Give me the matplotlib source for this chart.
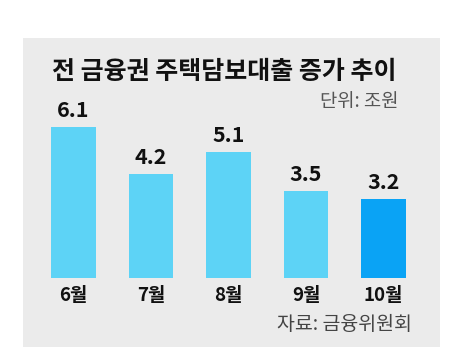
import matplotlib.pyplot as plt
from matplotlib.patches import Rectangle

plt.rcParams['font.family'] = ['Noto Sans CJK KR', 'DejaVu Sans']

months = ['6월', '7월', '8월', '9월', '10월']
values = [6.1, 4.2, 5.1, 3.5, 3.2]
colors = ['#5dd3f6', '#5dd3f6', '#5dd3f6', '#5dd3f6', '#0aa3f5']

W, H = 453, 364
fig = plt.figure(figsize=(W / 100, H / 100), dpi=100)
fig.patch.set_facecolor('white')

# gray panel
fig.patches.append(Rectangle((23 / W, 1 - 347 / H), 417 / W, 309 / H,
                             transform=fig.transFigure, facecolor='#ebebeb',
                             edgecolor='none', zorder=-1))

ax = fig.add_axes([34.75 / W, 86 / H, 387.5 / W, 198 / H])
ax.set_zorder(1)
ax.patch.set_alpha(0)
x = range(len(values))
bars = ax.bar(x, values, width=0.58, color=colors)
ax.set_xlim(-0.5, 4.5)
ax.set_ylim(0, 8)

for xi, v in zip(x, values):
    ax.annotate(f'{v}', (xi, v), xytext=(0, 7.2), textcoords='offset points',
                ha='center', va='baseline', fontsize=15.5, fontweight='black',
                color='#111111')

ax.set_xticks(list(x))
ax.set_xticklabels(months, fontsize=13.5, fontweight='black', color='#111111')
ax.tick_params(axis='x', length=0, pad=6)
ax.set_yticks([])
for s in ax.spines.values():
    s.set_visible(False)

fig.text(52 / W, 1 - 72 / H, '전 금융권 주택담보대출 증가 추이', fontsize=18,
         fontweight='black', ha='left', va='center', color='#111111')
fig.text(398 / W, 1 - 101 / H, '단위: 조원', fontsize=13.5,
         ha='right', va='center', color='#555555')
fig.text(412 / W, 1 - 325 / H, '자료: 금융위원회', fontsize=14,
         ha='right', va='center', color='#444444')

fig.savefig('out.png', dpi=100)
